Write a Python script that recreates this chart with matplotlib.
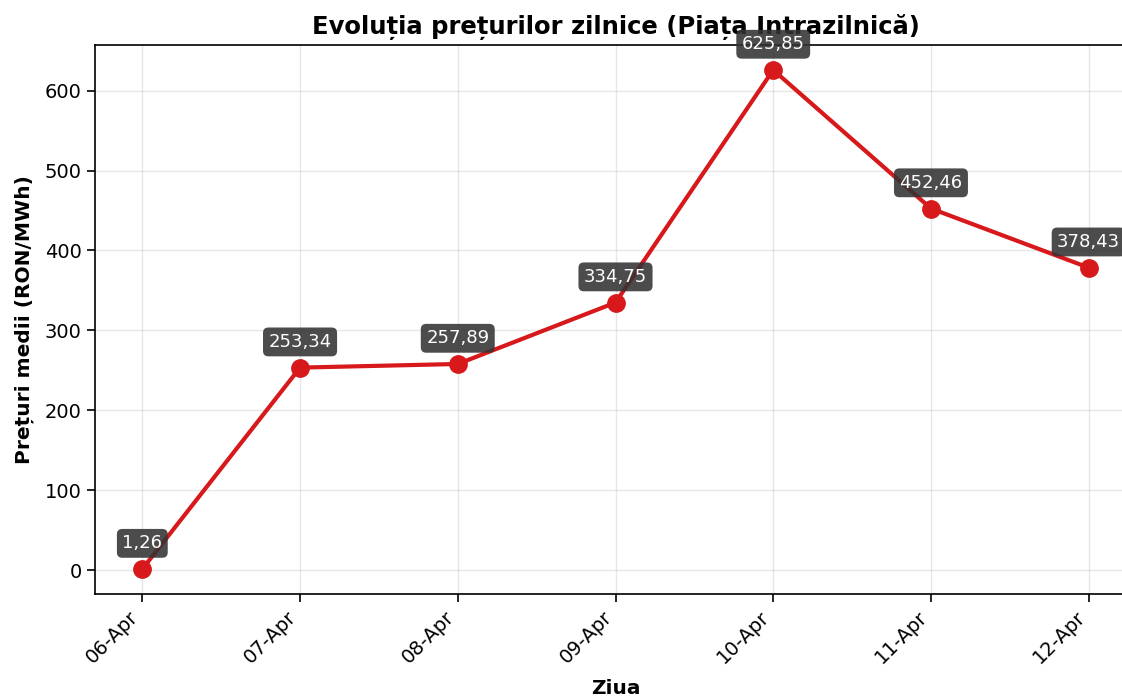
import matplotlib
matplotlib.use("Agg")
import matplotlib.pyplot as plt

days = ["06-Apr", "07-Apr", "08-Apr", "09-Apr", "10-Apr", "11-Apr", "12-Apr"]
prices = [1.26, 253.34, 257.89, 334.75, 625.85, 452.46, 378.43]
labels = ["1,26", "253,34", "257,89", "334,75", "625,85", "452,46", "378,43"]

fig = plt.figure(figsize=(11.22, 6.98), dpi=100)
ax = fig.add_axes([95/1122, 104/698, 1041/1122, 549/698])
x = list(range(len(days)))
ax.plot(x, prices, color="#d7191c", linewidth=3, marker="o", markersize=12.5, zorder=3)
for xi, yi, lb in zip(x, prices, labels):
    ax.annotate(lb, (xi, yi), xytext=(0, 18.5), textcoords="offset points",
                ha="center", va="center", fontsize=13, color="white",
                bbox=dict(boxstyle="round,pad=0.3", facecolor="#333333", alpha=0.88, edgecolor="none"),
                zorder=5, annotation_clip=False)
ax.set_xticks(x)
ax.set_xticklabels(days, rotation=45, ha="right", fontsize=14)
ax.tick_params(axis="y", labelsize=14)
ax.tick_params(length=6, width=1.2)
for s in ax.spines.values():
    s.set_linewidth(1.2)
ax.grid(True, alpha=0.3, linewidth=1)
ax.set_title("Evoluția prețurilor zilnice (Piața Intrazilnică)", fontsize=17.5, fontweight="bold", pad=8)
ax.set_xlabel("Ziua", fontsize=14.5, fontweight="bold", labelpad=9)
ax.set_ylabel("Prețuri medii (RON/MWh)", fontsize=14.5, fontweight="bold", labelpad=8)
fig.savefig("out.png", dpi=100)
